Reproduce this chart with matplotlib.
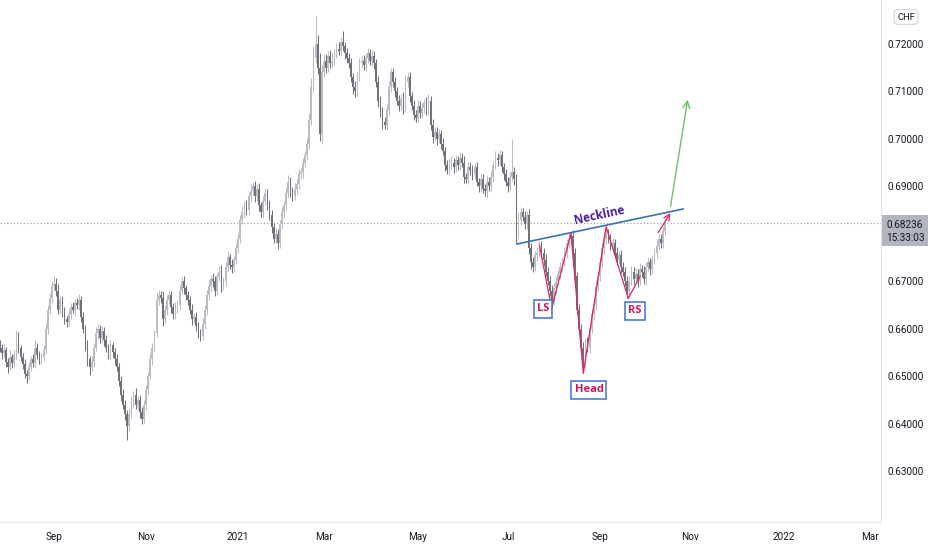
import numpy as np
import pandas as pd
import matplotlib
matplotlib.use('Agg')
import matplotlib.pyplot as plt
from matplotlib.patches import Rectangle

# AUDCHF daily candles, values in pips (1e-4 CHF)
first_open = 6565
closes = [
    6560, 6548, 6555, 6530, 6520, 6540, 6528, 6545, 6585, 6560, 6540, 6525, 6505, 6500, 6520, 6535, 6528, 6560, 6545, 6535,
    6540, 6555, 6600, 6640, 6665, 6690, 6695, 6680, 6640, 6660, 6635, 6620, 6615, 6630, 6645, 6640, 6655, 6650, 6660, 6625,
    6600, 6565, 6535, 6520, 6530, 6560, 6590, 6600, 6580, 6595, 6575, 6560, 6545, 6565, 6550, 6535, 6520, 6490, 6460, 6440,
    6420, 6395, 6420, 6445, 6460, 6440, 6450, 6425, 6410, 6440, 6470, 6500, 6535, 6560, 6590, 6660, 6670, 6665, 6620, 6640,
    6660, 6670, 6645, 6630, 6645, 6650, 6680, 6700, 6685, 6670, 6660, 6640, 6620, 6625, 6605, 6590, 6585, 6610, 6640, 6670,
    6690, 6705, 6700, 6680, 6710, 6720, 6690, 6700, 6730, 6750, 6735, 6730, 6745, 6770, 6790, 6830, 6845, 6860, 6850, 6880,
    6890, 6900, 6880, 6895, 6860, 6845, 6870, 6885, 6860, 6840, 6815, 6790, 6800, 6780, 6820, 6845, 6860, 6885, 6910, 6890,
    6880, 6895, 6905, 6925, 6930, 6950, 6965, 6990, 7040, 7110, 7170, 7200, 7150, 7010, 7140, 7165, 7150, 7175, 7160, 7165,
    7180, 7190, 7185, 7205, 7195, 7180, 7170, 7160, 7130, 7110, 7100, 7130, 7160, 7165, 7155, 7170, 7180, 7165, 7175, 7160,
    7120, 7080, 7060, 7035, 7030, 7060, 7110, 7140, 7120, 7100, 7080, 7070, 7085, 7065, 7120, 7130, 7090, 7070, 7050, 7045,
    7070, 7055, 7065, 7075, 7060, 7080, 7030, 7005, 7015, 7000, 7010, 6990, 6975, 6945, 6935, 6945, 6950, 6940, 6955, 6945,
    6960, 6950, 6920, 6915, 6940, 6935, 6925, 6940, 6910, 6900, 6915, 6895, 6890, 6910, 6900, 6920, 6945, 6960, 6955, 6965,
    6940, 6925, 6910, 6900, 6920, 6930, 6915, 6800, 6830, 6845, 6835, 6820, 6840, 6770, 6740, 6730, 6755, 6760, 6775, 6760,
    6745, 6720, 6700, 6680, 6660, 6685, 6700, 6715, 6730, 6740, 6760, 6780, 6790, 6795, 6760, 6710, 6640, 6600, 6560, 6530,
    6570, 6560, 6600, 6630, 6650, 6690, 6710, 6740, 6770, 6790, 6800, 6790, 6775, 6780, 6760, 6745, 6755, 6730, 6720, 6700,
    6680, 6700, 6720, 6705, 6715, 6700, 6725, 6720, 6705, 6730, 6740, 6725, 6745, 6760, 6775, 6790, 6780, 6805, 6824,
]
wick_up = [
    10, 8, 12, 6, 9, 14, 7, 10, 12, 8, 6, 9, 11, 7, 10, 8, 12, 15, 9, 7,
    8, 10, 12, 9, 11, 10, 15, 12, 14, 9, 8, 10, 7, 11, 9, 12, 8, 10, 14, 9,
    11, 8, 10, 7, 12, 9, 13, 10, 8, 11, 9, 12, 8, 10, 7, 9, 11, 8, 10, 12,
    9, 8, 10, 12, 9, 14, 8, 11, 9, 10, 12, 9, 13, 10, 8, 18, 12, 10, 15, 9,
    10, 12, 9, 8, 11, 10, 13, 9, 12, 8, 10, 9, 11, 7, 10, 8, 9, 12, 10, 11,
    13, 9, 12, 10, 8, 11, 14, 9, 10, 12, 8, 11, 9, 10, 12, 9, 13, 10, 12, 9,
    15, 10, 12, 9, 11, 8, 10, 12, 9, 11, 10, 8, 12, 9, 10, 11, 9, 12, 14, 10,
    9, 11, 10, 12, 8, 10, 9, 12, 15, 18, 25, 60, 20, 30, 15, 12, 14, 10, 12, 16,
    10, 12, 14, 10, 22, 9, 12, 10, 11, 9, 12, 14, 10, 9, 12, 10, 11, 9, 12, 10,
    9, 12, 10, 8, 11, 14, 12, 10, 9, 11, 10, 12, 9, 14, 15, 12, 10, 9, 11, 10,
    12, 9, 11, 10, 13, 14, 10, 12, 9, 11, 10, 9, 12, 8, 10, 12, 14, 10, 11, 9,
    12, 10, 14, 9, 11, 12, 10, 9, 11, 8, 10, 12, 9, 11, 10, 12, 9, 14, 10, 11,
    10, 9, 12, 10, 11, 70, 10, 12, 15, 12, 10, 14, 9, 12, 10, 11, 9, 12, 10, 9,
    10, 12, 9, 10, 11, 12, 10, 9, 11, 10, 12, 9, 11, 10, 12, 9, 10, 11, 9, 12,
    10, 12, 9, 11, 10, 12, 9, 10, 11, 14, 12, 10, 9, 11, 10, 12, 9, 10, 11, 9,
    12, 10, 11, 9, 12, 10, 14, 9, 11, 10, 12, 9, 11, 10, 12, 9, 10, 11, 8,
]
wick_dn = [
    9, 12, 8, 10, 14, 7, 11, 9, 10, 12, 8, 10, 9, 15, 8, 10, 9, 11, 8, 10,
    10, 9, 8, 11, 9, 10, 8, 12, 10, 9, 11, 10, 12, 9, 10, 8, 11, 9, 10, 12,
    10, 12, 14, 18, 9, 10, 8, 11, 10, 9, 12, 10, 9, 11, 10, 12, 9, 11, 12, 10,
    12, 30, 10, 9, 11, 10, 12, 14, 10, 9, 11, 10, 9, 12, 10, 8, 11, 10, 14, 9,
    11, 9, 12, 10, 9, 11, 10, 8, 12, 9, 11, 10, 12, 9, 11, 10, 12, 9, 10, 11,
    9, 10, 12, 11, 9, 10, 12, 9, 11, 10, 9, 12, 10, 9, 11, 10, 9, 12, 10, 11,
    10, 9, 12, 10, 11, 9, 12, 10, 9, 12, 14, 10, 9, 12, 10, 9, 11, 10, 9, 12,
    10, 9, 11, 10, 9, 12, 10, 9, 11, 10, 12, 10, 14, 15, 20, 10, 12, 9, 11, 10,
    12, 10, 9, 11, 10, 12, 9, 11, 10, 15, 12, 10, 9, 11, 10, 12, 9, 10, 11, 12,
    10, 12, 14, 15, 10, 12, 9, 11, 10, 12, 9, 11, 10, 12, 9, 10, 12, 9, 11, 10,
    9, 12, 10, 11, 9, 10, 12, 14, 10, 12, 9, 11, 10, 12, 9, 11, 10, 12, 9, 10,
    11, 10, 12, 9, 10, 11, 12, 9, 10, 12, 11, 9, 10, 12, 9, 10, 11, 9, 12, 10,
    10, 12, 9, 11, 10, 9, 12, 20, 10, 12, 9, 11, 10, 12, 14, 10, 9, 12, 10, 11,
    12, 10, 9, 11, 15, 10, 12, 9, 11, 10, 9, 12, 10, 9, 12, 14, 10, 12, 10, 24,
    12, 10, 11, 9, 12, 10, 11, 9, 10, 12, 11, 10, 9, 12, 10, 11, 9, 12, 10, 11,
    15, 12, 9, 11, 10, 12, 9, 11, 10, 12, 9, 11, 10, 9, 12, 10, 11, 9, 10,
]

last_price = 0.68236
countdown = '15:33:03'
price_ticks = [0.63, 0.64, 0.65, 0.66, 0.67, 0.69, 0.70, 0.71, 0.72]
month_starts = ['2020-09', '2020-11', '2021-01', '2021-03', '2021-05',
                '2021-07', '2021-09', '2021-11', '2022-01', '2022-03']
month_labels = ['Sep', 'Nov', '2021', 'Mar', 'May', 'Jul', 'Sep', 'Nov', '2022', 'Mar']

# drawings on the chart: (bar index, price)
neckline = [(247.3, 0.67784), (326.7, 0.68522)]
zigzag = [(258.0, 0.67763), (263.9, 0.66429), (273.1, 0.68010), (279.0, 0.65059),
          (289.9, 0.68149), (300.5, 0.66639), (306.1, 0.67095)]
pink_arrow = [(314.1, 0.67974), (321.3, 0.68486)]
green_arrow = [(320.5, 0.68522), (329.1, 0.70883)]
neck_text = (286.5, 0.68395)
tags = [('LS', 259.8, 0.66416), ('Head', 281.7, 0.64707), ('RS', 303.7, 0.66372)]

up_col = '#b9bcc3'
dn_col = '#6f727b'
pink = '#e0206a'

dates = pd.bdate_range('2020-07-27', '2022-03-31')
c = np.array(closes) / 1e4
o = np.r_[first_open, closes[:-1]] / 1e4
hi = np.maximum(o, c) + np.array(wick_up) / 1e4
lo = np.minimum(o, c) - np.array(wick_dn) / 1e4
x = np.arange(len(c))
up = c >= o
cols = np.where(up, up_col, dn_col)

fig = plt.figure(figsize=(9.32, 5.5), dpi=100)
ax = fig.add_axes([0, 28 / 550, 881 / 932, 522 / 550])

ax.vlines(x, lo, hi, colors=cols, lw=0.75, zorder=2)
body = np.maximum(np.abs(c - o), 0.00006)
ax.bar(x, body, bottom=np.minimum(o, c), width=0.8, color=cols, lw=0, zorder=3)

ax.axhline(last_price, color='#9598a1', lw=0.8, ls=(0, (1, 2)), zorder=1)

# head and shoulders drawings
nx, ny = zip(*neckline)
ax.plot(nx, ny, color='#3f6fae', lw=1.2, zorder=5)
zx, zy = zip(*zigzag)
ax.plot(zx, zy, color=pink, lw=0.9, zorder=5)
ax.annotate('', xy=pink_arrow[1], xytext=pink_arrow[0],
            arrowprops=dict(arrowstyle='->', color=pink, lw=0.9, mutation_scale=11), zorder=5)
ax.annotate('', xy=green_arrow[1], xytext=green_arrow[0],
            arrowprops=dict(arrowstyle='->', color='#6cbf6c', lw=1, mutation_scale=12), zorder=5)
ax.text(neck_text[0], neck_text[1], 'Neckline', color='#4a1c9c', fontsize=8.5,
        fontweight='bold', family='Open Sans', rotation=12, ha='center', va='center',
        rotation_mode='anchor', zorder=6)
for name, tx, ty in tags:
    ax.text(tx, ty, name, color='#d81459', fontsize=8, fontweight='bold', family='Open Sans',
            ha='center', va='center',
            bbox=dict(boxstyle='square,pad=0.28', fc='white', ec='#3a6fe0', lw=1.1), zorder=6)

# axes
tick_pos = [int(np.argmax(dates >= pd.Timestamp(m))) for m in month_starts]
ax.set_xticks(tick_pos)
ax.set_xticklabels(month_labels)
ax.set_yticks(price_ticks)
ax.set_yticklabels(['%.5f' % p for p in price_ticks])
ax.yaxis.tick_right()
ax.set_xlim(0.19, 421.3)
ax.set_ylim(0.619241, 0.729275)
for lab in ax.get_xticklabels() + ax.get_yticklabels():
    lab.set_family('Roboto')
ax.tick_params(axis='x', length=0, pad=7, labelsize=7.2, labelcolor='#131722')
ax.tick_params(axis='y', length=0, pad=5, labelsize=7.2, labelcolor='#131722')
for s in ['top', 'left']:
    ax.spines[s].set_visible(False)
ax.spines['right'].set_color('#e0e3eb')
ax.spines['bottom'].set_color('#f0e4e8')

# last price label and currency tag
fig.add_artist(Rectangle((882 / 932, 1 - 246 / 550), 46 / 932, 31 / 550,
                         transform=fig.transFigure, fc='#b2b5be', ec='none'))
fig.text(905 / 932, 1 - 225 / 550, '%.5f' % last_price, ha='center', va='center',
         fontsize=7.2, family='Roboto', color='#131722')
fig.text(905 / 932, 1 - 238 / 550, countdown, ha='center', va='center',
         fontsize=7.2, family='Roboto', color='#131722')
fig.text(906 / 932, 1 - 17 / 550, 'CHF', ha='center', va='center', fontsize=6.8,
         family='Roboto', color='#131722',
         bbox=dict(boxstyle='round,pad=0.3', fc='white', ec='#d1d4dc', lw=0.8))

fig.savefig('out.png', dpi=100)
